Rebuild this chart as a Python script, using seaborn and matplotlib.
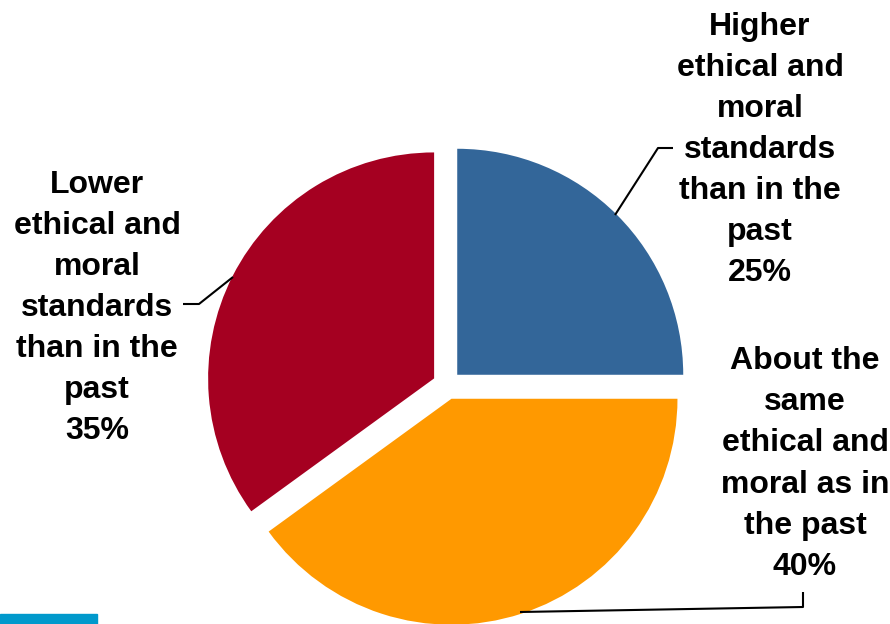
import matplotlib
matplotlib.use("Agg")
import matplotlib.pyplot as plt
import seaborn as sns

# ===============================
# Data
# ===============================
labels = [
    "Higher\nethical and\nmoral\nstandards\nthan in the\npast\n25%",
    "About the\nsame\nethical and\nmoral as in\nthe past\n40%",
    "Lower\nethical and\nmoral\nstandards\nthan in the\npast\n35%",
]
shares = [25, 40, 35]
colors = ["#336699", "#FF9900", "#A50021"]

sns.set_theme(style="white")
plt.rcParams["font.family"] = ["Liberation Sans", "DejaVu Sans"]

W, H = 890, 624
R = 226
fig = plt.figure(figsize=(W / 100, H / 100), dpi=100)
ax = fig.add_axes([0, 0, 1, 1])

# explode is in data units here (radius is in pixels)
ax.pie(shares, colors=colors, startangle=90, counterclock=False,
       explode=[0.064 * R] * 3, center=(447, H - 385), radius=R,
       frame=True, wedgeprops=dict(linewidth=0))

ax.set_xlim(0, W)
ax.set_ylim(0, H)
ax.axis("off")

# ===============================
# Labels + leader lines
# ===============================
txt = dict(ha="center", va="center", fontsize=23, fontweight="bold",
           color="black", linespacing=1.48, multialignment="center")
ax.text(760, H - 150, labels[0], **txt)
ax.text(805, H - 464, labels[1], **txt)
ax.text(97, H - 308, labels[2], **txt)

line = dict(color="black", lw=1.5, solid_capstyle="butt")
ax.plot([615, 658, 673], [H - 215, H - 148, H - 148], **line)
ax.plot([233, 199, 183], [H - 277, H - 304, H - 304], **line)
ax.plot([520, 803, 803], [H - 612, H - 607, H - 592], **line)

# small accent bar bottom-left
fig.patches.append(plt.Rectangle((0, 0), 97 / W, 10 / H, transform=fig.transFigure,
                                 color="#0099CC", zorder=5))

fig.savefig("out.png", dpi=100)
